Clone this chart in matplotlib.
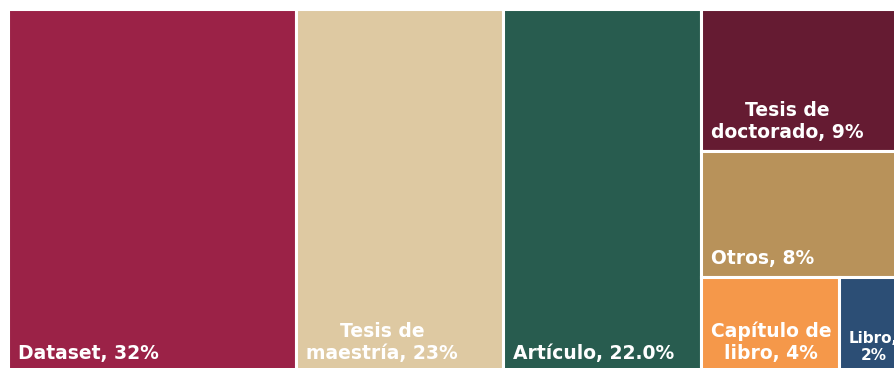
import matplotlib.pyplot as plt
from matplotlib.patches import Rectangle

categories = ["Dataset", "Tesis de\nmaestría", "Artículo", "Tesis de\ndoctorado",
              "Otros", "Capítulo de\nlibro", "Libro,\n"]
values = [32, 23, 22, 9, 8, 4, 2]
pct_labels = ["32%", "23%", "22.0%", "9%", "8%", "4%", "2%"]

colors = ["#9B2247", "#DEC9A2", "#285C4F", "#651B32", "#B8925A", "#F5984A", "#2C4E75"]


def worst(row, side):
    s = sum(row)
    return max(max(side * side * r / (s * s), s * s / (side * side * r)) for r in row)


def squarify(areas, x, y, w, h):
    rects = []
    areas = list(areas)
    while areas:
        side = min(w, h)
        row = [areas[0]]
        i = 1
        while i < len(areas) and worst(row + [areas[i]], side) <= worst(row, side):
            row.append(areas[i])
            i += 1
        s = sum(row)
        if w >= h:
            cw = s / h
            yy = y
            for a in row:
                rects.append((x, yy, cw, a / cw))
                yy += a / cw
            x += cw
            w -= cw
        else:
            rh = s / w
            xx = x
            for a in row:
                rects.append((xx, y, a / rh, rh))
                xx += a / rh
            y += rh
            h -= rh
        areas = areas[i:]
    return rects


W, H = 900, 363
total = sum(values)
areas = [v / total * W * H for v in values]
rects = squarify(areas, 0, 0, W, H)

fig = plt.figure(figsize=(8.94, 3.68), dpi=100)
ax = fig.add_axes([8 / 894, -4 / 368, W / 894, H / 368])
ax.set_xlim(0, W)
ax.set_ylim(H, 0)
ax.axis("off")

for (x, y, w, h), cat, pct, c in zip(rects, categories, pct_labels, colors):
    ax.add_patch(Rectangle((x, y), w, h, facecolor=c, edgecolor="white", linewidth=2.2))
    if cat.endswith("\n"):
        label = cat + pct
    else:
        label = cat + ", " + pct
    fs = 13.5 if w > 100 else 11
    ax.annotate(label, xy=(x, y + h), xytext=(10, 9), textcoords="offset pixels",
                ha="left", va="bottom", multialignment="center", color="white",
                fontsize=fs, fontweight="bold", family="DejaVu Sans", linespacing=1.2,
                annotation_clip=False)

fig.savefig("out.png", dpi=100)
